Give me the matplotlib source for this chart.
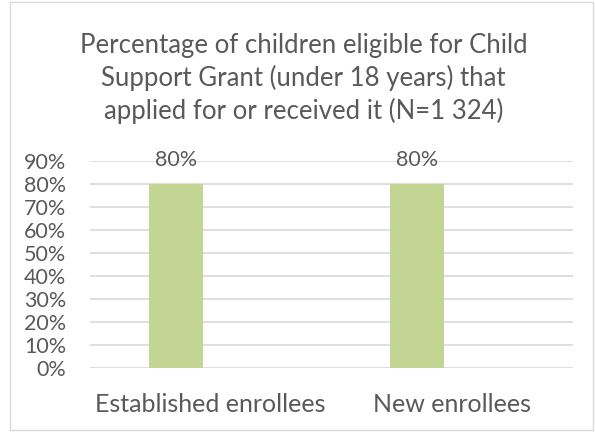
import numpy as np
import matplotlib.pyplot as plt
from matplotlib.patches import Rectangle

categories = ['Established enrollees', 'New enrollees']
values = [0.80, 0.80]
yticks = [0.0, 0.1, 0.2, 0.3, 0.4, 0.5, 0.6, 0.7, 0.8, 0.9]

plt.rcParams['font.family'] = ['Lato', 'DejaVu Sans']
grey = '#595959'

fig = plt.figure(figsize=(5.95, 4.32), dpi=100)
ax = fig.add_axes([0.151, 0.148, 0.812, 0.479])

x = np.arange(len(categories))
offset = -0.145
bars = ax.bar(x + offset, values, width=0.224, color='#C2D592', zorder=3)
for b, v in zip(bars, values):
    ax.text(b.get_x() + b.get_width() / 2, v + 0.105, f'{v:.0%}',
            ha='center', va='center', fontsize=15.5, color=grey)

ax.set_xlim(-0.5, 1.5)
ax.set_ylim(0, 0.9)
ax.set_yticks(yticks)
ax.set_yticklabels([f'{t:.0%}' for t in yticks], fontsize=15.5, color=grey)
ax.set_xticks(x)
ax.set_xticklabels(categories, fontsize=18, color=grey)
ax.tick_params(axis='both', length=0)
ax.tick_params(axis='y', pad=17)
ax.tick_params(axis='x', pad=18)
ax.grid(axis='y', color='#D9D9D9', linewidth=1.2, zorder=0)
for s in ax.spines.values():
    s.set_visible(False)

fig.text(0.51, 0.819, 'Percentage of children eligible for Child\n'
         'Support Grant (under 18 years) that\n'
         'applied for or received it (N=1 324)',
         ha='center', va='center', fontsize=18.5, color=grey, linespacing=1.32)

fig.patches.append(Rectangle((0.016, 0.005), 0.98, 0.99, transform=fig.transFigure,
                             fill=False, edgecolor='#D9D9D9', linewidth=1))

fig.savefig('out.png', dpi=100)
